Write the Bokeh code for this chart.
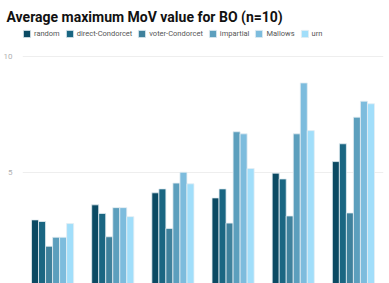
from bokeh.plotting import figure
from bokeh.models import ColumnDataSource, Legend, LegendItem, Range1d, FactorRange, SingleIntervalTicker
from bokeh.transform import dodge
from bokeh.embed import file_html
from bokeh.resources import INLINE

groups = ["3", "4", "5", "6", "7", "8"]
series = ["random", "direct-Condorcet", "voter-Condorcet", "impartial", "Mallows", "urn"]
colors = ["#0b4a63", "#1a6682", "#3f819c", "#5c9fbd", "#7dbcdd", "#a1defa"]
random_v = [2.94, 3.59, 4.11, 3.89, 4.96, 5.46]
direct_v = [2.87, 3.22, 4.28, 4.28, 4.71, 6.23]
voter_v = [1.80, 2.21, 2.57, 2.80, 3.11, 3.24]
impartial_v = [2.19, 3.47, 4.53, 6.75, 6.66, 7.38]
mallows_v = [2.19, 3.47, 5.00, 6.66, 8.86, 8.07]
urn_v = [2.78, 3.08, 4.50, 5.16, 6.80, 7.96]
values = [random_v, direct_v, voter_v, impartial_v, mallows_v, urn_v]

src = ColumnDataSource(dict(g=groups, **{f"s{i}": v for i, v in enumerate(values)}))

p = figure(width=389, height=283, output_backend="svg", toolbar_location=None,
           x_range=FactorRange(*groups, range_padding=0), y_range=Range1d(0.19, 11.30),
           min_border_left=19, min_border_right=6, min_border_top=26, min_border_bottom=0)
p.outline_line_color = None
p.background_fill_color = "white"
p.border_fill_color = "white"

bw = 0.7 / 6
items = []
for i, (s, c) in enumerate(zip(series, colors)):
    off = -0.35 + bw / 2 + i * bw
    r = p.vbar(x=dodge("g", off, range=p.x_range), top=f"s{i}", width=bw, source=src,
               fill_color=c, line_color="#e4eef3", line_width=0.8)
    items.append(LegendItem(label=s, renderers=[r]))

p.xaxis.visible = False
p.xgrid.visible = False
p.yaxis.ticker = SingleIntervalTicker(interval=5)
p.yaxis.axis_line_color = None
p.yaxis.major_tick_line_color = None
p.yaxis.minor_tick_line_color = None
p.yaxis.major_label_text_color = "#b0b0b0"
p.yaxis.major_label_text_font = "Roboto"
p.yaxis.major_label_text_font_size = "8px"
p.yaxis.major_label_standoff = 4
p.ygrid.grid_line_color = "#eeeeee"

legend = Legend(items=items, orientation="horizontal", location=(0, 245),
                label_text_font="Roboto", label_text_font_size="7.5px", label_text_color="#555555",
                glyph_width=9, glyph_height=9, label_standoff=3, spacing=5,
                padding=0, margin=0, border_line_color=None, background_fill_alpha=0,
                label_height=9)
p.add_layout(legend)

p.title.text = "Average maximum MoV value for BO (n=10)"
p.title.text_font = "Roboto"
p.title.text_font_size = "14px"
p.title.text_font_style = "bold"
p.title.text_color = "#111111"
p.title.offset = -16
p.title.standoff = 4

open("out.html", "w").write(file_html(p, INLINE))
